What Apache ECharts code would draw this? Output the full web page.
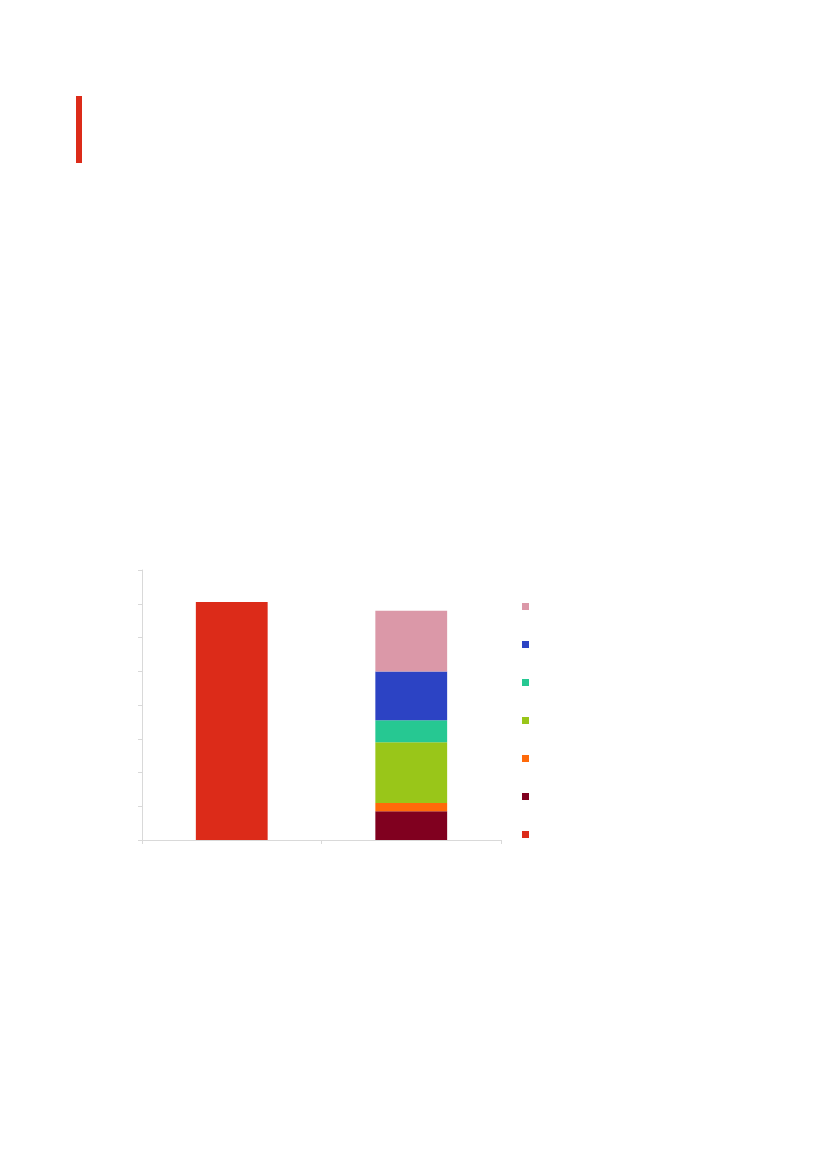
<!DOCTYPE html>
<html>
<head>
<meta charset="utf-8">
<script src="https://cdn.jsdelivr.net/npm/echarts@6/dist/echarts.min.js"></script>
<style>
  html, body { margin: 0; padding: 0; background: #ffffff; }
  #main { width: 827px; height: 1169px; }
</style>
</head>
<body>
<div id="main"></div>
<script>
// two columns, no visible labels in the source
var categories = ['c1', 'c2'];

// left column: single total
var totalValues = [70.5, '-'];

// right column: stacked parts, bottom to top
var partNames = ['p1', 'p2', 'p3', 'p4', 'p5', 'p6'];
var partValues = [8.5, 2.5, 18.0, 6.5, 14.4, 18.0];
var partColors = ['#80001f', '#ff6a0a', '#99c619', '#26c892', '#2c43c4', '#db98a8'];
var totalColor = '#dc2b19';

var yMax = 80;
var yStep = 10;

var chart = echarts.init(document.getElementById('main'));

var seriesList = [];
seriesList.push({
    name: 'total',
    type: 'bar',
    stack: 'all',
    barWidth: '40%',
    itemStyle: { color: totalColor },
    data: totalValues
});
for (var i = 0; i < partNames.length; i++) {
    seriesList.push({
        name: partNames[i],
        type: 'bar',
        stack: 'all',
        barWidth: '40%',
        itemStyle: { color: partColors[i] },
        data: ['-', partValues[i]]
    });
}

// legend reads top to bottom: last part first, total last
var legendOrder = partNames.slice().reverse();
legendOrder.push('total');

var axisGrey = '#d9d9d9';

var option = {
    backgroundColor: '#ffffff',
    animation: false,
    grid: {
        left: 142,
        right: 326,
        top: 570,
        bottom: 329
    },
    legend: {
        orient: 'vertical',
        left: 522,
        top: 603,
        padding: 0,
        itemWidth: 7,
        itemHeight: 7,
        itemGap: 31,
        icon: 'rect',
        selectedMode: false,
        formatter: function () { return ''; },
        data: legendOrder
    },
    xAxis: {
        type: 'category',
        data: categories,
        axisLine: { lineStyle: { color: axisGrey } },
        axisTick: { show: true, length: 4, lineStyle: { color: axisGrey } },
        axisLabel: { show: false }
    },
    yAxis: {
        type: 'value',
        min: 0,
        max: yMax,
        interval: yStep,
        axisLine: { show: true, lineStyle: { color: axisGrey } },
        axisTick: { show: true, length: 4, lineStyle: { color: axisGrey } },
        axisLabel: { show: false },
        splitLine: { show: false }
    },
    graphic: [
        {
            type: 'rect',
            left: 76,
            top: 96,
            shape: { width: 6, height: 67 },
            style: { fill: totalColor }
        }
    ],
    series: seriesList
};

chart.setOption(option);
</script>
</body>
</html>
